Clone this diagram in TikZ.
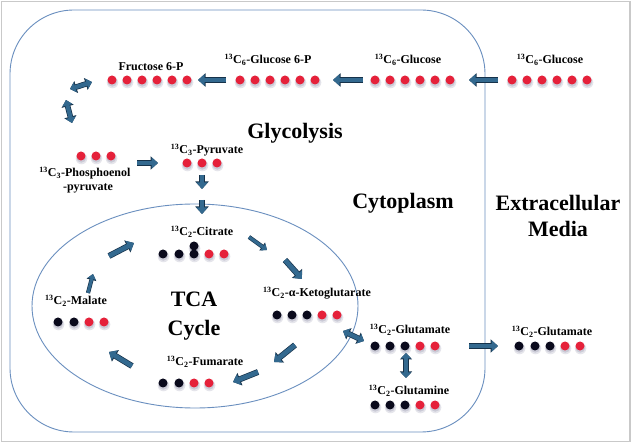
\documentclass[tikz,border=0pt]{standalone}
\usepackage{fontspec}
\setmainfont{Liberation Serif}
\usetikzlibrary{arrows.meta}
\definecolor{cellc}{HTML}{6A8FBF}
\definecolor{framec}{HTML}{C9C9C9}
\definecolor{redd}{HTML}{E5213A}
\definecolor{blackd}{HTML}{0A0A1C}
\definecolor{shadowc}{HTML}{9A9AB0}
\definecolor{arrfill}{HTML}{33698F}
\definecolor{arredge}{HTML}{16324A}
\newcommand{\mdot}[3]{\fill[shadowc,opacity=0.25] (#1+0.5,#2+2.5) circle (5.8); \fill[shadowc,opacity=0.35] (#1+0.3,#2+1.8) circle (4.9); \fill[#3] (#1,#2) circle (4.5);}
\tikzset{
  lbl/.style={font=\bfseries\fontsize{12}{13}\selectfont, inner sep=0pt},
  big/.style={font=\bfseries\fontsize{22}{25}\selectfont, inner sep=0pt},
  barrow/.style={draw=arrfill, line width=4.6pt, -{Triangle[length=6.5pt,width=11pt]},
    preaction={draw=arredge, line width=6pt, -{Triangle[length=7.5pt,width=13pt]}}},
  dbarrow/.style={draw=arrfill, line width=4.2pt, {Triangle[length=5.5pt,width=10pt]}-{Triangle[length=5.5pt,width=10pt]},
    preaction={draw=arredge, line width=5.6pt, {Triangle[length=6.5pt,width=12pt]}-{Triangle[length=6.5pt,width=12pt]}}},
  sarrow/.style={draw=arrfill, line width=3pt, -{Triangle[length=5pt,width=8pt]},
    preaction={draw=arredge, line width=4.2pt, -{Triangle[length=6pt,width=9.5pt]}}},
}
\begin{document}
\begin{tikzpicture}[x=1pt,y=-1pt]
\useasboundingbox (0,0) rectangle (632,443);
\fill[white] (0,0) rectangle (632,443);
\draw[framec, line width=1.6pt] (1.5,1.5) rectangle (630,441.5);
% cell and mitochondrion
\draw[cellc, line width=0.9pt, rounded corners=64pt] (10,10) rectangle (485,432);
\draw[cellc, line width=0.9pt] (195,306) ellipse [x radius=163, y radius=102];

% big labels
\node[big] (glyc) at (295,133) {Glycolysis};
\node[big] (cyto) at (403,203) {Cytoplasm};
\node[big] (extra) at (558,203) {Extracellular};
\node[big] (media) at (558,228.5) {Media};
\node[big] (tca) at (194,299.5) {TCA};
\node[big] (cycle) at (194,330) {Cycle};

% small labels
\node[lbl] (lfru) at (151,67) {Fructose 6-P};
\node[lbl] (lg6p) at (268,60) {\textsuperscript{13}C\textsubscript{6}-Glucose 6-P};
\node[lbl] (lglc) at (408,60) {\textsuperscript{13}C\textsubscript{6}-Glucose};
\node[lbl] (lglcx) at (550,60) {\textsuperscript{13}C\textsubscript{6}-Glucose};
\node[lbl] (lpep) at (85,173) {\textsuperscript{13}C\textsubscript{3}-Phosphoenol};
\node[lbl] (lpep2) at (88,188) {-pyruvate};
\node[lbl] (lpyr) at (207,150) {\textsuperscript{13}C\textsubscript{3}-Pyruvate};
\node[lbl] (lcit) at (202,232) {\textsuperscript{13}C\textsubscript{2}-Citrate};
\node[lbl] (lakg) at (317,293) {\textsuperscript{13}C\textsubscript{2}-α-Ketoglutarate};
\node[lbl] (lfum) at (205,362) {\textsuperscript{13}C\textsubscript{2}-Fumarate};
\node[lbl] (lmal) at (76,301) {\textsuperscript{13}C\textsubscript{2}-Malate};
\node[lbl] (lglu) at (410,330) {\textsuperscript{13}C\textsubscript{2}-Glutamate};
\node[lbl] (lgln) at (409,391) {\textsuperscript{13}C\textsubscript{2}-Glutamine};
\node[lbl] (lglux) at (552,332) {\textsuperscript{13}C\textsubscript{2}-Glutamate};

% dots
\foreach \i in {0,...,5} {
  \mdot{112+15*\i}{80}{redd}
  \mdot{240+15*\i}{80}{redd}
  \mdot{375+15*\i}{80}{redd}
  \mdot{512+15*\i}{80}{redd}
}
\foreach \i in {0,1,2} {
  \mdot{81+15*\i}{156}{redd}
  \mdot{187+15*\i}{163}{redd}
}
% citrate
\mdot{163}{254}{blackd} \mdot{179}{254}{blackd} \mdot{194}{246}{blackd} \mdot{194}{254}{blackd}
\mdot{209}{254}{redd} \mdot{224}{254}{redd}
% akg
\mdot{277}{315}{blackd} \mdot{292}{315}{blackd} \mdot{307}{315}{blackd} \mdot{322}{315}{redd} \mdot{337}{315}{redd}
% fumarate
\mdot{163}{383}{blackd} \mdot{179}{383}{blackd} \mdot{194}{383}{redd} \mdot{209}{383}{redd}
% malate
\mdot{58}{322}{blackd} \mdot{74}{322}{blackd} \mdot{89}{322}{redd} \mdot{104}{322}{redd}
% glutamate, glutamine, external glutamate
\foreach \y in {346,405} {
  \mdot{375}{\y}{blackd} \mdot{390}{\y}{blackd} \mdot{405}{\y}{blackd} \mdot{420}{\y}{redd} \mdot{435}{\y}{redd}
}
\mdot{519}{346}{blackd} \mdot{535}{346}{blackd} \mdot{550}{346}{blackd} \mdot{565}{346}{redd} \mdot{580}{346}{redd}

% arrow coordinates
\coordinate (a1t) at (226,80);  \coordinate (a1h) at (198,80);
\coordinate (a2t) at (363,80);  \coordinate (a2h) at (333,80);
\coordinate (a3t) at (498,80);  \coordinate (a3h) at (469,80);
\coordinate (d1a) at (70,89);   \coordinate (d1b) at (92,82);
\coordinate (d2a) at (66,100);  \coordinate (d2b) at (72,123);
\coordinate (a4t) at (137,163); \coordinate (a4h) at (158,163);
\coordinate (a5t) at (202,175); \coordinate (a5h) at (202,189);
\coordinate (a6t) at (202,200); \coordinate (a6h) at (202,214);
\coordinate (a7t) at (249,237); \coordinate (a7h) at (267,250);
\coordinate (a8t) at (285,260); \coordinate (a8h) at (302,279);
\coordinate (a9t) at (295,345); \coordinate (a9h) at (274,362);
\coordinate (a10t) at (258,372); \coordinate (a10h) at (233,382);
\coordinate (a11t) at (132,366); \coordinate (a11h) at (109,352);
\coordinate (a12t) at (88,293); \coordinate (a12h) at (93,274);
\coordinate (a13t) at (109,256); \coordinate (a13h) at (134,243);
\coordinate (d3a) at (343,331); \coordinate (d3b) at (364,341);
\coordinate (d4a) at (406,353); \coordinate (d4b) at (406,378);
\coordinate (a14t) at (469,346); \coordinate (a14h) at (498,346);

\draw[barrow] (a1t) -- (a1h);
\draw[barrow] (a2t) -- (a2h);
\draw[barrow] (a3t) -- (a3h);
\draw[dbarrow] (d1a) -- (d1b);
\draw[dbarrow] (d2a) -- (d2b);
\draw[barrow] (a4t) -- (a4h);
\draw[barrow] (a5t) -- (a5h);
\draw[barrow] (a6t) -- (a6h);
\draw[sarrow] (a7t) -- (a7h);
\draw[barrow] (a8t) -- (a8h);
\draw[barrow] (a9t) -- (a9h);
\draw[barrow] (a10t) -- (a10h);
\draw[barrow] (a11t) -- (a11h);
\draw[sarrow] (a12t) -- (a12h);
\draw[barrow] (a13t) -- (a13h);
\draw[dbarrow] (d3a) -- (d3b);
\draw[dbarrow] (d4a) -- (d4b);
\draw[barrow] (a14t) -- (a14h);
\end{tikzpicture}
\end{document}
